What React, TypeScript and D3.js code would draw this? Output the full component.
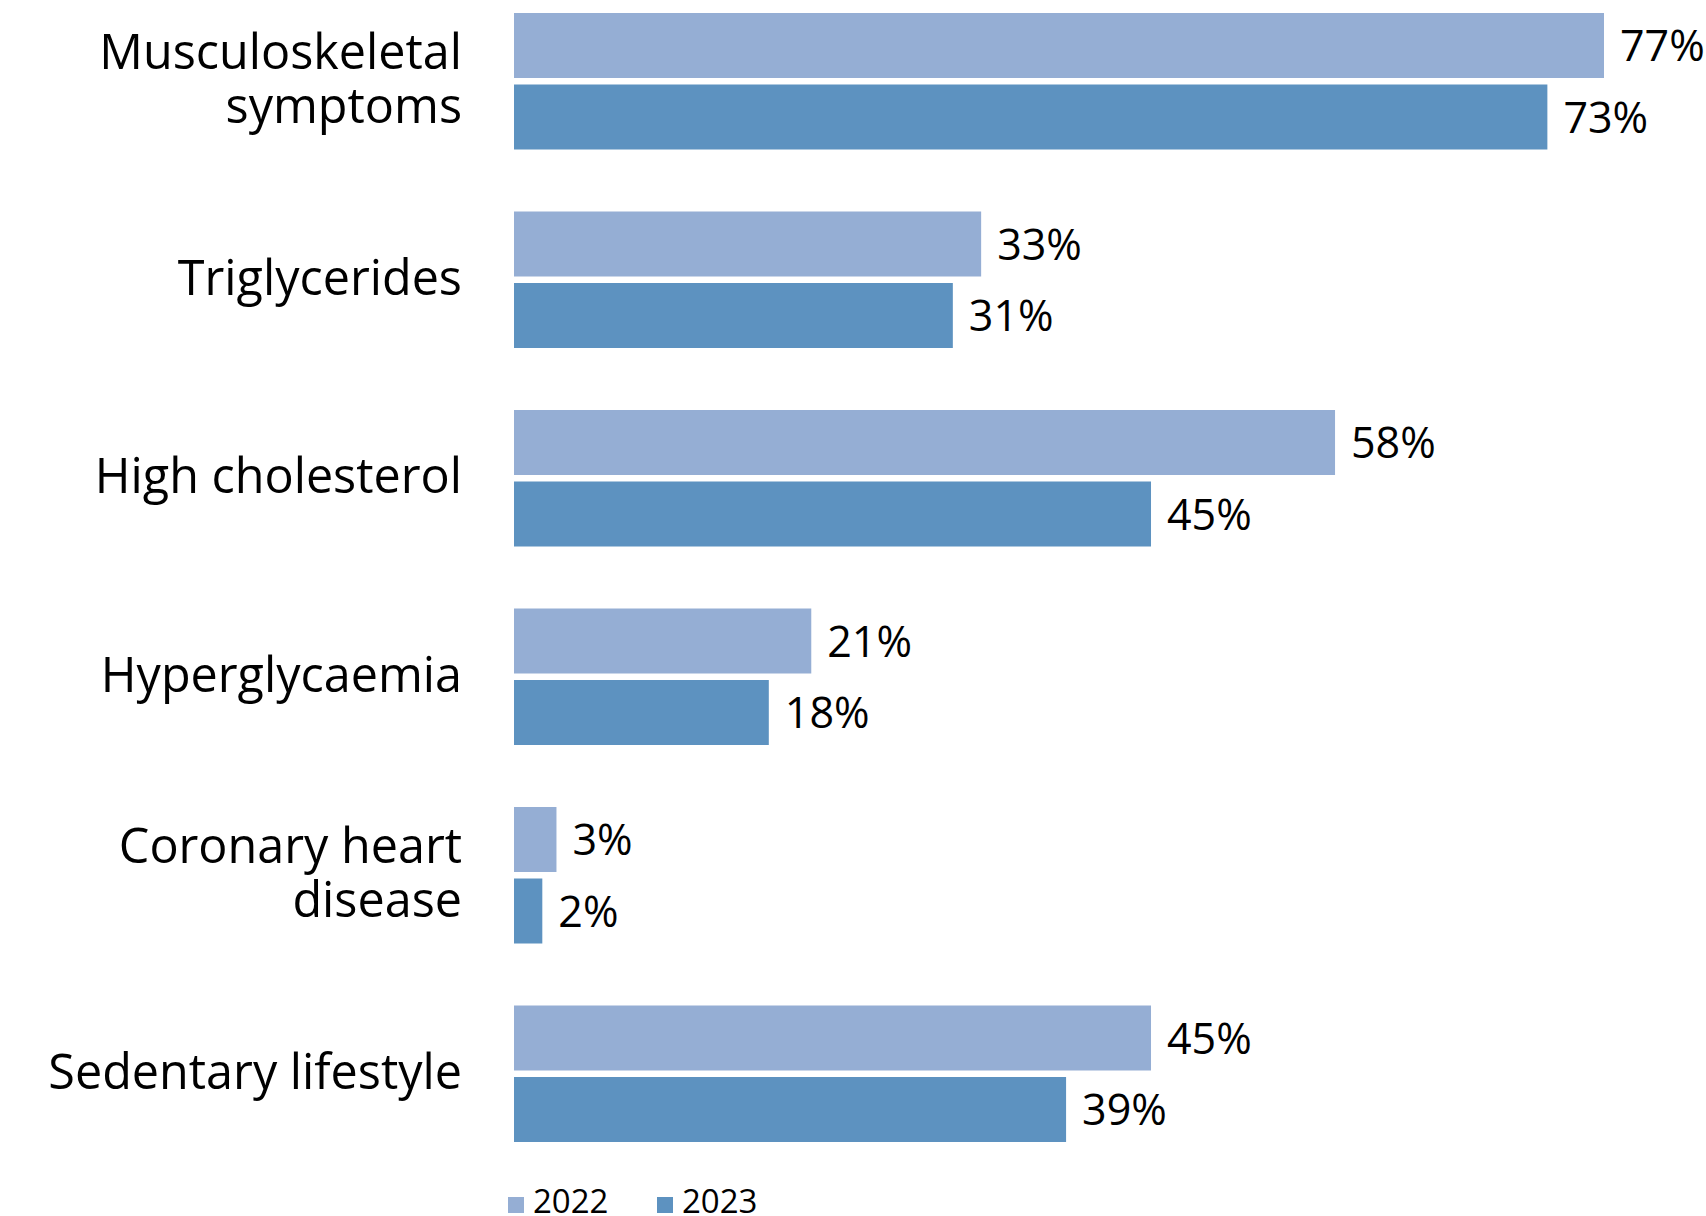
import React from "react";
import * as d3 from "d3";

const categories = [
  "Musculoskeletal symptoms",
  "Triglycerides",
  "High cholesterol",
  "Hyperglycaemia",
  "Coronary heart disease",
  "Sedentary lifestyle",
];
const categoryLines: string[][] = [
  ["Musculoskeletal", "symptoms"],
  ["Triglycerides"],
  ["High cholesterol"],
  ["Hyperglycaemia"],
  ["Coronary heart", "disease"],
  ["Sedentary lifestyle"],
];
const seriesNames = ["2022", "2023"];
const values2022 = [77, 33, 58, 21, 3, 45];
const values2023 = [73, 31, 45, 18, 2, 39];
const colors = ["#95AED4", "#5D92C0"];

const W = 1706;
const H = 1216;
const FONT = "'Open Sans', 'Noto Sans', sans-serif";

export default function App() {
  const x = d3.scaleLinear().domain([0, 77]).range([514, 1604]);
  const pInner = 62 / 198.5;
  const y0 = d3
    .scaleBand<string>()
    .domain(categories)
    .range([13, 13 + 198.5 * (6 - pInner)])
    .paddingInner(pInner)
    .paddingOuter(0);
  const y1 = d3
    .scaleBand<string>()
    .domain(seriesNames)
    .range([0, y0.bandwidth()])
    .paddingInner(6.5 / 71.5)
    .paddingOuter(0);
  const series = [values2022, values2023];

  return (
    <svg
      width={W}
      height={H}
      style={{ position: "absolute", left: 0, top: 0, background: "#fff" }}
      fontFamily={FONT}
    >
      {categories.map((c, i) => {
        const top = y0(c)!;
        const mid = top + y0.bandwidth() / 2;
        const lines = categoryLines[i];
        const lh = 54;
        const base = mid + 15 - ((lines.length - 1) * lh) / 2;
        return (
          <g key={c}>
            {lines.map((l, k) => (
              <text
                key={k}
                x={462}
                y={base + k * lh}
                textAnchor="end"
                fontSize={48.5}
                fill="#000"
              >
                {l}
              </text>
            ))}
            {seriesNames.map((s, j) => {
              const v = series[j][i];
              const by = top + y1(s)!;
              const bh = y1.bandwidth();
              return (
                <g key={s}>
                  <rect
                    x={x(0)}
                    y={by}
                    width={x(v) - x(0)}
                    height={bh}
                    fill={colors[j]}
                  />
                  <text
                    x={x(v) + 16}
                    y={by + bh / 2 - 1}
                    dominantBaseline="central"
                    fontSize={43}
                    fill="#000"
                  >
                    {v}%
                  </text>
                </g>
              );
            })}
          </g>
        );
      })}
      <g>
        {seriesNames.map((s, j) => {
          const lx = 508 + j * 149;
          return (
            <g key={s}>
              <rect x={lx} y={1197} width={16} height={16} fill={colors[j]} />
              <text x={lx + 25} y={1213} fontSize={33} fill="#000">
                {s}
              </text>
            </g>
          );
        })}
      </g>
    </svg>
  );
}
